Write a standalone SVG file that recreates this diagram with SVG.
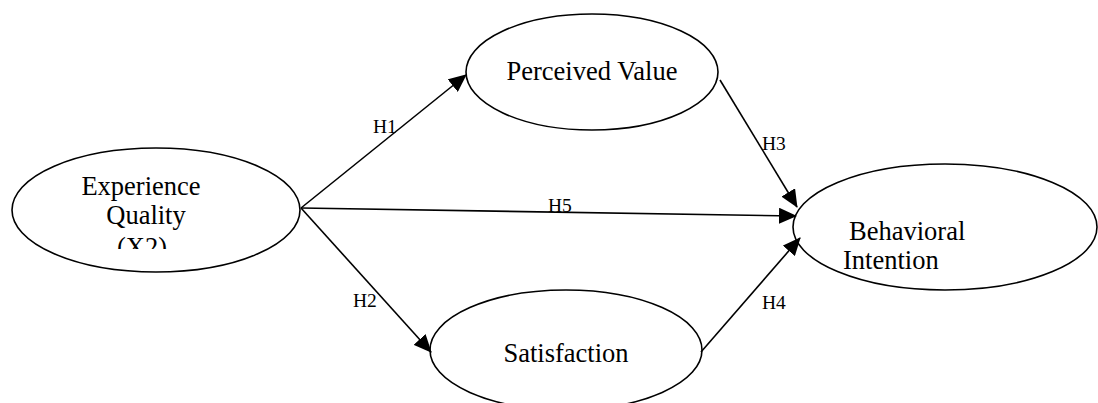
<svg xmlns="http://www.w3.org/2000/svg" width="1098" height="403" viewBox="0 0 1098 403">
<style>
.node{fill:#fff;stroke:#000;stroke-width:1.6}
.t{font-family:"Liberation Serif","Times New Roman",Times,serif;font-size:26.5px;fill:#000}
.lb{font-family:"Liberation Serif","Times New Roman",Times,serif;font-size:19.5px;fill:#000}
.edge{stroke:#000;stroke-width:1.6;fill:none}
</style>
<defs>
<marker id="ahb" markerWidth="18" markerHeight="16" refX="17" refY="8" orient="auto" markerUnits="userSpaceOnUse" viewBox="0 0 18 16">
<path d="M0,0 L18,8 L0,16 z" fill="#000"/>
</marker>
<clipPath id="eqclip"><rect x="0" y="0" width="1098" height="249"/></clipPath>
</defs>
<g id="experience-quality">
<ellipse class="node" cx="156" cy="210" rx="144" ry="62"/>
<text class="t" x="141" y="195" text-anchor="middle">Experience</text>
<text class="t" x="146" y="224" text-anchor="middle">Quality</text>
<text class="t" x="142" y="256" text-anchor="middle" clip-path="url(#eqclip)">(X2)</text>
</g>
<g id="perceived-value">
<ellipse class="node" cx="592" cy="72" rx="126" ry="58"/>
<text class="t" x="592" y="80" text-anchor="middle">Perceived Value</text>
</g>
<g id="satisfaction">
<ellipse class="node" cx="566" cy="350" rx="136" ry="60"/>
<text class="t" x="566" y="362" text-anchor="middle">Satisfaction</text>
</g>
<g id="behavioral-intention">
<ellipse class="node" cx="945" cy="227" rx="152" ry="63"/>
<text class="t" x="849" y="240">Behavioral</text>
<text class="t" x="843" y="269">Intention</text>
</g>
<g id="connectors">
<line class="edge" x1="301" y1="208" x2="466" y2="75" marker-end="url(#ahb)"/>
<line class="edge" x1="301" y1="208" x2="796" y2="216" marker-end="url(#ahb)"/>
<line class="edge" x1="301" y1="208" x2="431" y2="352" marker-end="url(#ahb)"/>
<line class="edge" x1="720" y1="80" x2="797" y2="207" marker-end="url(#ahb)"/>
<line class="edge" x1="701" y1="352" x2="800" y2="238" marker-end="url(#ahb)"/>
<text class="lb" x="373" y="133">H1</text>
<text class="lb" x="762" y="150">H3</text>
<text class="lb" x="548" y="212">H5</text>
<text class="lb" x="353" y="307">H2</text>
<text class="lb" x="762" y="309">H4</text>
</g>
</svg>
